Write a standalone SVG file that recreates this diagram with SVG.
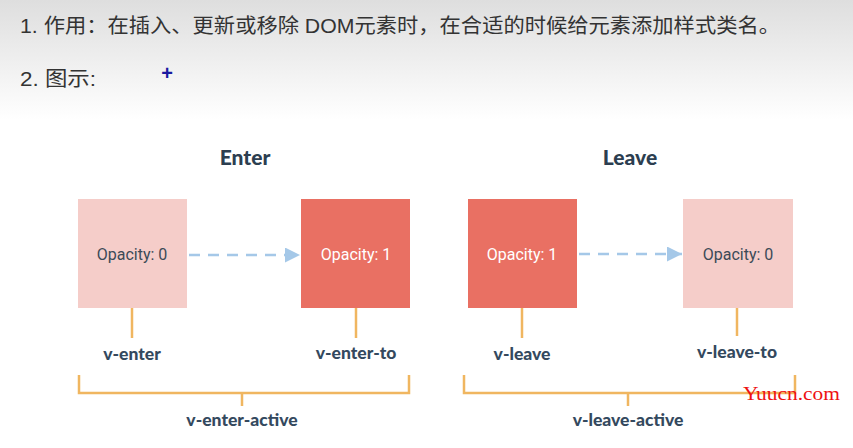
<svg xmlns="http://www.w3.org/2000/svg" width="853" height="448" viewBox="0 0 853 448">
<defs>
<linearGradient id="bg" x1="0" y1="0" x2="0" y2="1">
<stop offset="0" stop-color="#dedede"/>
<stop offset="1" stop-color="#ffffff"/>
</linearGradient>
<marker id="ah" viewBox="0 0 10 10" refX="10" refY="5" markerWidth="18" markerHeight="15" markerUnits="userSpaceOnUse" orient="auto">
<path d="M0,0 L10,5 L0,10 z" fill="#a5c8e8"/>
</marker>
<style>
.hdr{font-family:"Liberation Sans","Noto Sans CJK SC",sans-serif;font-size:20px;fill:#333}
.ttl{font-family:Lato,"Open Sans",sans-serif;font-weight:900;font-size:21px;fill:#2c3e50;text-anchor:middle}
.lbl{font-family:Lato,"Open Sans",sans-serif;font-weight:900;font-size:17.5px;fill:#34495e;text-anchor:middle}
.op{font-family:Roboto,"Open Sans",sans-serif;font-size:16px;text-anchor:middle}
.light{fill:#f5cdc9}
.dark{fill:#e97063}
.tick{stroke:#f0b660;stroke-width:2.5;fill:none}
.dash{stroke:#a5c8e8;stroke-width:2.5;stroke-dasharray:11 8;fill:none}
</style>
</defs>
<rect x="0" y="0" width="853" height="120" fill="url(#bg)"/>
<rect x="0" y="120" width="853" height="328" fill="#ffffff"/>
<text class="hdr" x="20" y="33" textLength="760" lengthAdjust="spacingAndGlyphs">1. 作用：在插入、更新或移除 DOM元素时，在合适的时候给元素添加样式类名。</text>
<text class="hdr" x="20" y="86" textLength="76" lengthAdjust="spacingAndGlyphs">2. 图示:</text>
<text x="167" y="80" font-family="Liberation Sans, sans-serif" font-size="20" font-weight="bold" fill="#1a1aa0" text-anchor="middle">+</text>

<text class="ttl" x="245" y="165">Enter</text>
<text class="ttl" x="630" y="165">Leave</text>

<g id="enter-from">
<rect class="light" x="78" y="199" width="109" height="109"/>
<text class="op" x="132" y="260" fill="#3c4a57">Opacity: 0</text>
</g>
<g id="enter-to">
<rect class="dark" x="301" y="199" width="109" height="109"/>
<text class="op" x="356" y="260" fill="#ffffff">Opacity: 1</text>
</g>
<g id="leave-from">
<rect class="dark" x="468" y="199" width="109" height="109"/>
<text class="op" x="522" y="260" fill="#ffffff">Opacity: 1</text>
</g>
<g id="leave-to">
<rect class="light" x="683" y="199" width="110" height="109"/>
<text class="op" x="738" y="260" fill="#3c4a57">Opacity: 0</text>
</g>

<g id="connectors">
<line class="dash" x1="189" y1="255" x2="300" y2="255" marker-end="url(#ah)"/>
<line class="dash" x1="579" y1="254" x2="682" y2="254" marker-end="url(#ah)"/>
<line class="tick" x1="132" y1="308" x2="132" y2="338"/>
<line class="tick" x1="356" y1="308" x2="356" y2="338"/>
<line class="tick" x1="522" y1="308" x2="522" y2="338"/>
<line class="tick" x1="737" y1="308" x2="737" y2="336"/>
<path class="tick" d="M79,375 V393 H409 V375 M242,393 V406"/>
<path class="tick" d="M464,375 V393 H795 V375 M628,393 V406"/>
</g>

<g id="labels">
<text class="lbl" x="132" y="360">v-enter</text>
<text class="lbl" x="356" y="359">v-enter-to</text>
<text class="lbl" x="522" y="360">v-leave</text>
<text class="lbl" x="737" y="358">v-leave-to</text>
<text class="lbl" x="242" y="426">v-enter-active</text>
<text class="lbl" x="628" y="426">v-leave-active</text>
</g>
<text x="743" y="400" font-family="Liberation Serif, serif" font-size="18" fill="#ee1111" textLength="97" lengthAdjust="spacingAndGlyphs">Yuucn.com</text>
</svg>
